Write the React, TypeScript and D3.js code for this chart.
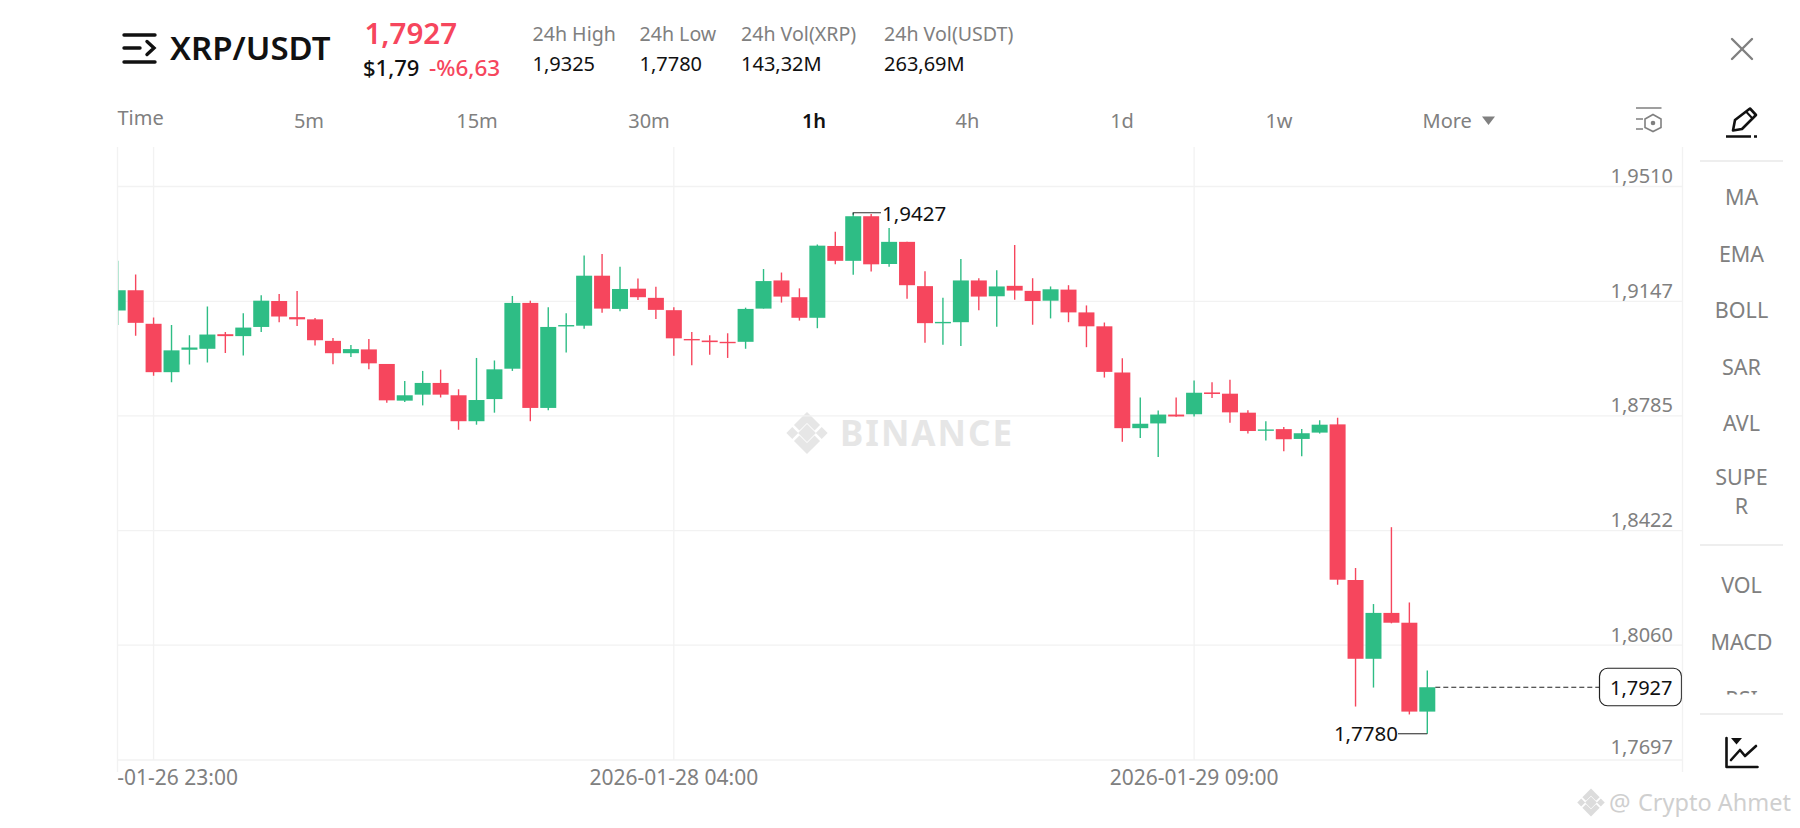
import { useEffect, useRef } from 'react'

import * as d3 from 'd3'

// hourly candles
const opens = [
  1.9118, 1.9182, 1.9076, 1.8923, 1.8994, 1.8997, 1.9043, 1.9037, 1.9066, 1.9148, 1.9097, 1.909, 1.9022, 1.8983,
  1.8995, 1.8949, 1.8833, 1.8852, 1.8889, 1.885, 1.8768, 1.8838, 1.8934, 1.9142, 1.881, 1.9069, 1.907, 1.9228,
  1.9123, 1.9187, 1.9158, 1.9119, 1.9028, 1.9023, 1.9019, 1.9019, 1.9124, 1.9213, 1.916, 1.9095, 1.9322, 1.9275,
  1.9416, 1.9265, 1.9335, 1.9195, 1.9078, 1.9081, 1.9213, 1.9163, 1.9196, 1.918, 1.9149, 1.9184, 1.9112, 1.9068,
  1.8922, 1.8746, 1.8761, 1.8789, 1.879, 1.8859, 1.8855, 1.8795, 1.8738, 1.8743, 1.8712, 1.8732, 1.8758, 1.8266,
  1.8017, 1.8162, 1.8131, 1.785,
]
const highs = [
  1.9275, 1.9232, 1.9096, 1.9072, 1.904, 1.9131, 1.905, 1.9109, 1.9166, 1.917, 1.918, 1.9094, 1.9031, 1.9009,
  1.9028, 1.8949, 1.8895, 1.8927, 1.8931, 1.8869, 1.8968, 1.896, 1.9164, 1.9149, 1.9128, 1.9109, 1.9292, 1.9297,
  1.9256, 1.9219, 1.9193, 1.9128, 1.905, 1.904, 1.9046, 1.9127, 1.9249, 1.9238, 1.9188, 1.9327, 1.9367, 1.9427,
  1.9423, 1.9379, 1.9335, 1.9242, 1.9158, 1.9281, 1.922, 1.9245, 1.9325, 1.922, 1.9194, 1.9198, 1.9134, 1.908,
  1.8967, 1.8843, 1.8802, 1.8843, 1.8897, 1.8891, 1.8899, 1.8803, 1.8768, 1.875, 1.8743, 1.8771, 1.8779, 1.8304,
  1.819, 1.8433, 1.8195, 1.798,
]
const lows = [
  1.9072, 1.9038, 1.8912, 1.8891, 1.8947, 1.8954, 1.8984, 1.8976, 1.905, 1.9081, 1.9069, 1.9007, 1.8948, 1.8971,
  1.8932, 1.8826, 1.8829, 1.8818, 1.8843, 1.8741, 1.8757, 1.8795, 1.8927, 1.8768, 1.8803, 1.8985, 1.906, 1.9111,
  1.9116, 1.9151, 1.9091, 1.8975, 1.8945, 1.8978, 1.8968, 1.8997, 1.9124, 1.9143, 1.9086, 1.9062, 1.9264, 1.9231,
  1.9241, 1.9256, 1.9155, 1.9016, 1.901, 1.9006, 1.9119, 1.9067, 1.9152, 1.9073, 1.9093, 1.9081, 1.9002, 1.8906,
  1.8703, 1.8715, 1.8655, 1.8782, 1.8783, 1.8841, 1.8763, 1.8729, 1.8707, 1.8673, 1.8657, 1.8729, 1.8251, 1.7866,
  1.7926, 1.8129, 1.7841, 1.778,
]
const closes = [
  1.9182, 1.9079, 1.8923, 1.8992, 1.9001, 1.9042, 1.9037, 1.9064, 1.9149, 1.9099, 1.909, 1.9024, 1.8983, 1.8996,
  1.8951, 1.8834, 1.885, 1.8889, 1.8852, 1.8768, 1.8835, 1.8932, 1.9142, 1.881, 1.9066, 1.9072, 1.9228, 1.9124,
  1.9186, 1.916, 1.912, 1.903, 1.9024, 1.9018, 1.9015, 1.9123, 1.9211, 1.9162, 1.9095, 1.9323, 1.9275, 1.9416,
  1.9264, 1.9335, 1.9198, 1.9078, 1.9082, 1.9213, 1.9162, 1.9194, 1.9181, 1.9148, 1.9185, 1.9112, 1.9068, 1.8924,
  1.8746, 1.876, 1.8789, 1.8783, 1.8858, 1.8854, 1.8796, 1.8737, 1.8742, 1.8711, 1.873, 1.8757, 1.8267, 1.8017,
  1.8162, 1.8131, 1.785, 1.7927,
]

const priceTicks = [1.951, 1.9147, 1.8785, 1.8422, 1.806, 1.7697]
const timeTickIndexes = [2, 31, 60]
const timeTickLabels = ['2026-01-26 23:00', '2026-01-28 04:00', '2026-01-29 09:00']
const intervals = ['5m', '15m', '30m', '1h', '4h', '1d', '1w']
const intervalCenters = [309, 477, 649, 814, 967.5, 1122, 1279]
const statLabels = ['24h High', '24h Low', '24h Vol(XRP)', '24h Vol(USDT)']
const statValues = ['1,9325', '1,7780', '143,32M', '263,69M']
const statLefts = [532.5, 639.5, 741, 884]
const sideLabels = ['MA', 'EMA', 'BOLL', 'SAR', 'AVL', 'SUPE', 'R', 'VOL', 'MACD', 'RSI']
const sideBaselines = [205, 262, 318, 374.5, 431, 485, 514, 593, 649.5, 706.5]

const lastPrice = 1.7927
const maxIndex = 41
const minIndex = 73

const GREEN = '#2EBD85'
const RED = '#F6465D'
const GRAY = '#808080'
const GRID = '#f2f2f2'
const FONT = '"Noto Sans", sans-serif'

const plot = { left: 117.5, right: 1682.5, top: 147, bottom: 760 }

const fmt = (v: number) => v.toFixed(4).replace('.', ',')

// binance diamond mark, made of five rotated squares
function BinanceLogo({ cx, cy, s, color }: { cx: number; cy: number; s: number; color: string }) {
  const parts = [
    [0, 0, 0.3],
    [-0.7, 0, 0.2],
    [0.7, 0, 0.2],
  ]
  return (
    <g transform={`translate(${cx},${cy}) scale(${s})`} fill={color}>
      {parts.map(([x, y, r], i) => (
        <rect key={i} x={x - r} y={y - r} width={r * 2} height={r * 2} transform={`rotate(45 ${x} ${y})`} />
      ))}
      <path d="M0,-1 L0.62,-0.38 L0.36,-0.12 L0,-0.48 L-0.36,-0.12 L-0.62,-0.38 Z" />
      <path d="M0,1 L0.62,0.38 L0.36,0.12 L0,0.48 L-0.36,0.12 L-0.62,0.38 Z" />
    </g>
  )
}

export default function App() {
  const chartRef = useRef<SVGGElement>(null)

  useEffect(() => {
    if (!chartRef.current) return

    const g = d3.select(chartRef.current)
    g.selectAll('*').remove()

    const xScale = d3.scaleLinear().domain([0, 73]).range([117.7, 1427.3])
    const yScale = d3.scaleLinear().domain([1.7697, 1.951]).range([760, 186.5])

    const candles = d3.range(opens.length).map((i) => ({
      i,
      open: opens[i],
      high: highs[i],
      low: lows[i],
      close: closes[i],
    }))

    // Grid
    g.append('g')
      .selectAll('line')
      .data(priceTicks)
      .join('line')
      .attr('x1', plot.left)
      .attr('x2', plot.right)
      .attr('y1', (d) => yScale(d))
      .attr('y2', (d) => yScale(d))
      .attr('stroke', GRID)
      .attr('stroke-width', 1.3)

    g.append('g')
      .selectAll('line')
      .data(timeTickIndexes)
      .join('line')
      .attr('x1', (d) => xScale(d))
      .attr('x2', (d) => xScale(d))
      .attr('y1', plot.top)
      .attr('y2', plot.bottom)
      .attr('stroke', GRID)
      .attr('stroke-width', 1.3)

    // Candles
    const candle = g.append('g').attr('clip-path', 'url(#plot-clip)').selectAll('g').data(candles).join('g')

    candle
      .append('line')
      .attr('x1', (d) => xScale(d.i))
      .attr('x2', (d) => xScale(d.i))
      .attr('y1', (d) => yScale(d.high))
      .attr('y2', (d) => yScale(d.low))
      .attr('stroke', (d) => (d.close >= d.open ? GREEN : RED))
      .attr('stroke-width', 1.4)

    candle
      .append('rect')
      .attr('x', (d) => xScale(d.i) - 8)
      .attr('width', 16)
      .attr('y', (d) => yScale(Math.max(d.open, d.close)))
      .attr('height', (d) => Math.max(1.4, Math.abs(yScale(d.open) - yScale(d.close))))
      .attr('fill', (d) => (d.close >= d.open ? GREEN : RED))

    // Price axis labels
    g.append('g')
      .selectAll('text')
      .data(priceTicks)
      .join('text')
      .attr('x', 1673)
      .attr('y', (d) => yScale(d) - (d === priceTicks[5] ? 6.5 : 3.5))
      .attr('text-anchor', 'end')
      .attr('font-size', 20)
      .attr('fill', GRAY)
      .text((d) => fmt(d))

    // Time axis labels
    g.append('g')
      .attr('clip-path', 'url(#time-clip)')
      .selectAll('text')
      .data(timeTickIndexes)
      .join('text')
      .attr('x', (d) => xScale(d))
      .attr('y', 785)
      .attr('text-anchor', 'middle')
      .attr('font-size', 21)
      .attr('fill', GRAY)
      .text((_, i) => timeTickLabels[i])

    // Last price line
    const lastY = yScale(lastPrice)
    g.append('line')
      .attr('x1', xScale(73) + 8)
      .attr('x2', 1599)
      .attr('y1', lastY)
      .attr('y2', lastY)
      .attr('stroke', '#222')
      .attr('stroke-width', 1.1)
      .attr('stroke-dasharray', '5 3')
    g.append('rect')
      .attr('x', 1599.5)
      .attr('y', lastY - 19)
      .attr('width', 82)
      .attr('height', 37.5)
      .attr('rx', 8)
      .attr('fill', '#fff')
      .attr('stroke', '#222')
      .attr('stroke-width', 1.2)
    g.append('text')
      .attr('x', 1672.5)
      .attr('y', lastY + 7.5)
      .attr('text-anchor', 'end')
      .attr('font-size', 20)
      .attr('fill', '#111')
      .text(fmt(lastPrice))

    // Max / min markers
    const maxY = yScale(highs[maxIndex])
    g.append('path')
      .attr('d', `M${xScale(maxIndex)},${maxY + 2}V${maxY}H881`)
      .attr('fill', 'none')
      .attr('stroke', '#333')
      .attr('stroke-width', 1.1)
    g.append('text')
      .attr('x', 882)
      .attr('y', maxY + 8)
      .attr('font-size', 20.5)
      .attr('fill', '#111')
      .text(fmt(highs[maxIndex]))

    const minY = yScale(lows[minIndex])
    g.append('path')
      .attr('d', `M${xScale(minIndex)},${minY}H1398`)
      .attr('fill', 'none')
      .attr('stroke', '#333')
      .attr('stroke-width', 1.1)
    g.append('text')
      .attr('x', 1398)
      .attr('y', minY + 7.5)
      .attr('text-anchor', 'end')
      .attr('font-size', 20.5)
      .attr('fill', '#111')
      .text(fmt(lows[minIndex]))
  }, [])

  return (
    <svg
      width={1800}
      height={828}
      style={{ position: 'absolute', left: 0, top: 0, display: 'block', background: '#fff' }}
      fontFamily={FONT}
    >
      <defs>
        <clipPath id="plot-clip">
          <rect x={plot.left} y={plot.top} width={plot.right - plot.left} height={plot.bottom - plot.top} />
        </clipPath>
        <clipPath id="time-clip">
          <rect x={plot.left} y={760} width={plot.right - plot.left} height={50} />
        </clipPath>
        <clipPath id="side-clip">
          <rect x={1690} y={150} width={110} height={544.5} />
        </clipPath>
      </defs>

      {/* Header */}
      <g stroke="#111" strokeWidth={3.4} strokeLinecap="round" fill="none">
        <path d="M124,35H155M124,48H140M124,62H155" />
        <path d="M147,41.5L154,48L147,54.5" />
      </g>
      <text x={170} y={60} fontSize={33} fontWeight={600} fill="#111">
        XRP/USDT
      </text>
      <text x={364.5} y={44} fontSize={29.5} fontWeight={600} fill={RED}>
        1,7927
      </text>
      <text x={363} y={76} fontSize={22} fontWeight={500} fill="#111">
        $1,79
      </text>
      <text x={429} y={76} fontSize={22.5} fontWeight={500} fill={RED}>
        -%6,63
      </text>
      {statLabels.map((d, i) => (
        <text key={d} x={statLefts[i]} y={41} fontSize={19.6} fill={GRAY}>
          {d}
        </text>
      ))}
      {statValues.map((d, i) => (
        <text key={d} x={statLefts[i]} y={71} fontSize={20} fill="#111">
          {d}
        </text>
      ))}
      <g stroke={GRAY} strokeWidth={2.4} strokeLinecap="round">
        <line x1={1732} y1={39} x2={1752} y2={59} />
        <line x1={1752} y1={39} x2={1732} y2={59} />
      </g>

      {/* Interval row */}
      <text x={117.5} y={125} fontSize={20} fill={GRAY}>
        Time
      </text>
      {intervals.map((d, i) => (
        <text
          key={d}
          x={intervalCenters[i]}
          y={128}
          textAnchor="middle"
          fontSize={20}
          fontWeight={d === '1h' ? 600 : 400}
          fill={d === '1h' ? '#111' : GRAY}
        >
          {d}
        </text>
      ))}
      <text x={1422.5} y={128} fontSize={20} fill={GRAY}>
        More
      </text>
      <path d="M1482,116.5H1495L1488.5,125Z" fill={GRAY} />
      <g stroke={GRAY} strokeWidth={1.6} fill="none">
        <path d="M1636,108H1661.5M1636,119H1643M1636,129H1643" />
        <path d="M1653,114.5L1661,119V127.5L1653,131.5L1645,127.5V119Z" />
        <circle cx={1653} cy={123} r={1.5} fill={GRAY} />
      </g>

      {/* Watermark */}
      <BinanceLogo cx={807} cy={433} s={21} color="#e6e6e6" />
      <text x={840} y={446} fontSize={35} fontWeight={700} fill="#e6e6e6" letterSpacing={2}>
        BINANCE
      </text>

      <g ref={chartRef} />

      {/* Plot frame */}
      <line x1={plot.left} x2={plot.left} y1={plot.top} y2={772} stroke={GRID} strokeWidth={1.3} />
      <line x1={plot.right} x2={plot.right} y1={plot.top} y2={772} stroke={GRID} strokeWidth={1.3} />

      {/* Side column */}
      <g fill="none" stroke="#111" strokeWidth={2.6}>
        <path d="M1733,130.5L1735,120L1750,108.5L1756,115L1742,129Z" strokeLinejoin="round" />
        <path d="M1746,111.5L1752.5,118.5" strokeWidth={2} />
        <path d="M1726,136.5H1751M1754,136.5H1757" />
      </g>
      <line x1={1700} x2={1783} y1={161} y2={161} stroke="#eee" strokeWidth={2} />
      <line x1={1700} x2={1783} y1={545} y2={545} stroke="#eee" strokeWidth={2} />
      <line x1={1700} x2={1783} y1={714} y2={714} stroke="#eee" strokeWidth={2} />
      <g clipPath="url(#side-clip)">
        {sideLabels.map((d, i) => (
          <text key={d} x={1741.5} y={sideBaselines[i]} textAnchor="middle" fontSize={21.5} fill={GRAY}>
            {d}
          </text>
        ))}
      </g>
      <g fill="none" stroke="#111" strokeWidth={2.6} strokeLinecap="round" strokeLinejoin="round">
        <path d="M1726.5,738V767H1757.5" />
        <path d="M1731,760L1740,750L1745,756L1756,746" />
      </g>
      <path d="M1731,738H1742L1736.5,744.5Z" fill="#111" />

      {/* Credit */}
      <BinanceLogo cx={1591} cy={802.5} s={14} color="#dcdcdc" />
      <text x={1609} y={811} fontSize={24} fill="#cfcfcf">
        @
      </text>
      <text x={1638} y={811} fontSize={23.5} fill="#cfcfcf">
        Crypto Ahmet
      </text>
    </svg>
  )
}
